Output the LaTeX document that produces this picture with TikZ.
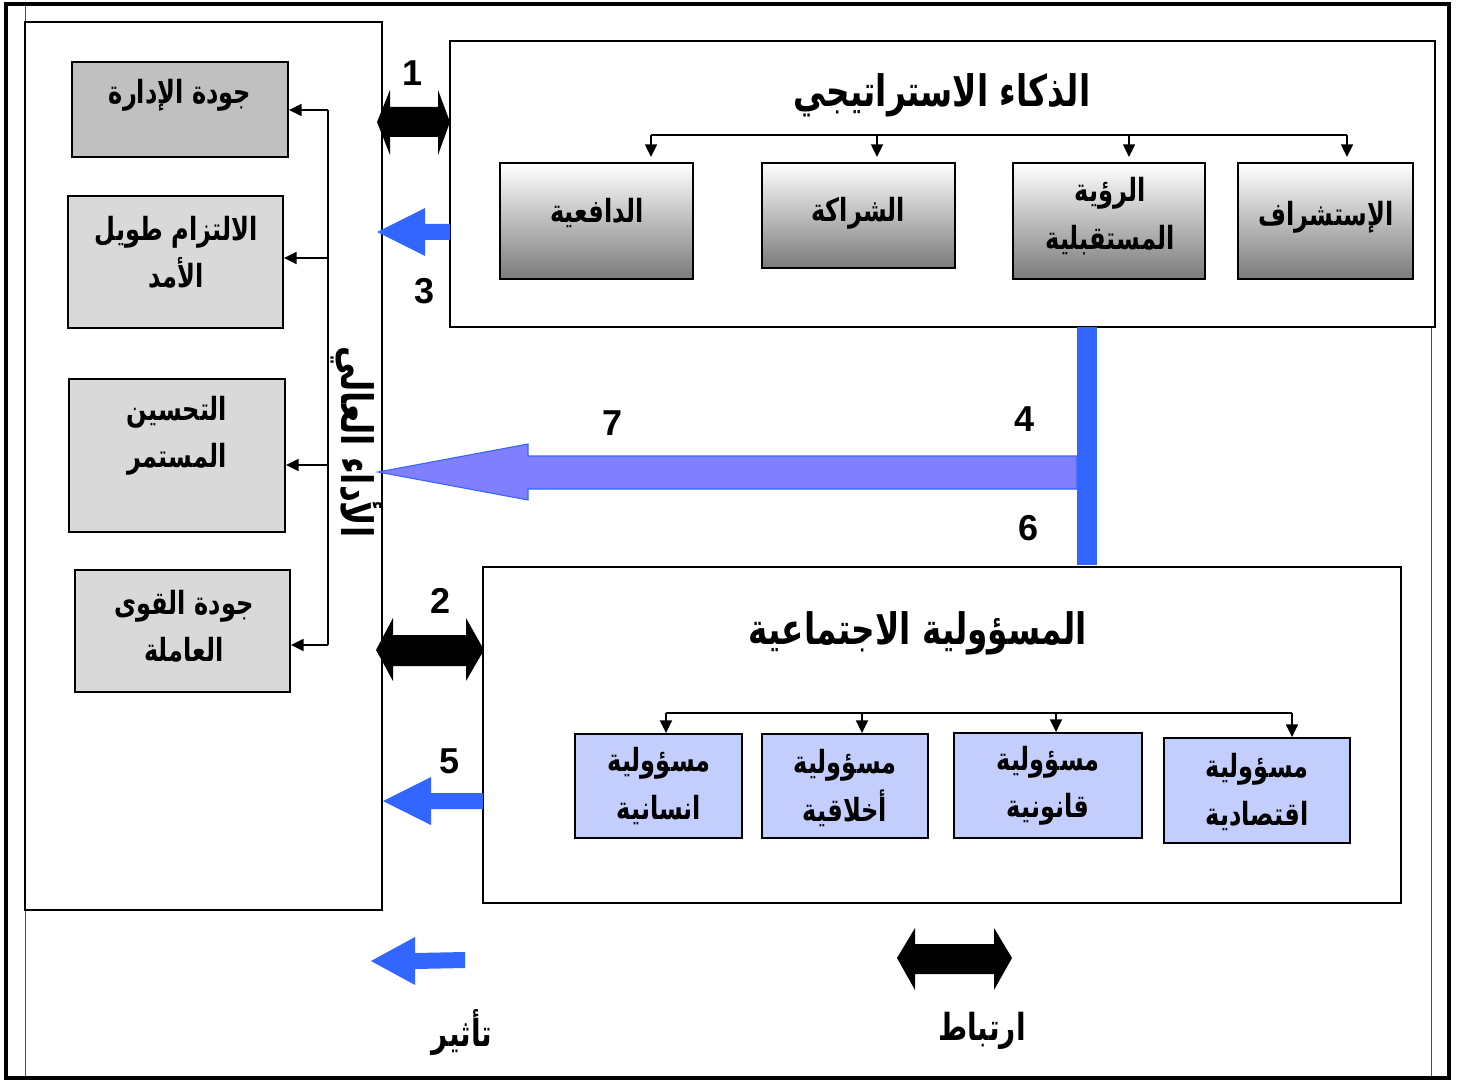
\documentclass[tikz,border=0pt]{standalone}
\usepackage{graphicx}
\usepackage{fontspec}
\setmainfont{Liberation Sans}
\newfontfamily\arfont[Script=Arabic,FakeStretch=0.86]{DejaVu Sans}
\TeXXeTstate=1
\usetikzlibrary{arrows.meta}
% right-to-left line, set a little taller than the font draws it
\newcommand\rl[1]{\scalebox{1}[1.14]{\beginR #1\endR}}
\definecolor{arrblue}{RGB}{51,102,255}
\definecolor{lavender}{RGB}{128,128,255}
\definecolor{paleblue}{RGB}{195,206,252}
\definecolor{gray1}{RGB}{192,192,192}
\definecolor{gray2}{RGB}{217,217,217}
\tikzset{
  wh/.style 2 args={minimum width=#1*0.75pt,minimum height=#2*0.75pt},
  frame/.style={draw=black,line width=2.4pt},
  margin/.style={draw=black!70,line width=0.6pt},
  panel/.style={draw=black,line width=1.1pt,inner sep=0pt},
  gradbox/.style={draw=black,line width=1.4pt,top color=white,bottom color=black!52,inner sep=0pt},
  leftbox/.style={draw=black,line width=1.4pt,inner sep=0pt},
  bluebox/.style={draw=black,line width=1.4pt,fill=paleblue,inner sep=0pt},
  title/.style={font=\arfont\bfseries\fontsize{28.5}{32}\selectfont,inner sep=0pt},
  label/.style={font=\arfont\bfseries\fontsize{21}{35.5}\selectfont,align=center,inner sep=0pt},
  keytext/.style={font=\arfont\bfseries\fontsize{24.5}{30}\selectfont,inner sep=0pt},
  num/.style={font=\bfseries\fontsize{27}{30}\selectfont,inner sep=0pt},
  tree/.style={draw=black,line width=1.1pt},
  treearrow/.style={tree,-{Triangle[length=9.5pt,width=9pt]}},
  blackarrow/.style={fill=black},
  bluearrow/.style={fill=arrblue},
}
\begin{document}
\begin{tikzpicture}[x=0.75pt,y=-0.75pt]
\useasboundingbox (0,0) rectangle (1458,1080);

% page margins and outer frame
\draw[margin] (25,4) -- (25,1078);
\draw[margin] (1431,327) -- (1431,1078);
\draw[frame] (6,4) rectangle (1449,1078);

% left panel: high performance
\node[panel,fill=white,wh={357}{888}] (panel) at (203.5,466) {};
\node[leftbox,fill=gray1,wh={216}{95}] (L1) at (180,109.5) {};
\node[leftbox,fill=gray2,wh={215}{132}] (L2) at (175.5,262) {};
\node[leftbox,fill=gray2,wh={216}{153}] (L3) at (177,455.5) {};
\node[leftbox,fill=gray2,wh={215}{122}] (L4) at (182.5,631) {};
\node[label] (L1t) at (180,95) {\rl{جودة الإدارة}};
\node[label] (L2t) at (176,252) {\rl{الالتزام طويل}\\\rl{الأمد}};
\node[label] (L3t) at (177,436) {\rl{التحسين}\\\rl{المستمر}};
\node[label] (L4t) at (184,626) {\rl{جودة القوى}\\\rl{العاملة}};

% distribution line feeding the four results
\coordinate (busTop) at (328,110);
\coordinate (busBot) at (328,645);
\draw[tree] (busTop) -- (busBot);
\draw[treearrow] (busTop) -- (L1.east |- busTop);
\draw[treearrow] (328,258) coordinate (b2) -- (L2.east |- b2);
\draw[treearrow] (328,465) coordinate (b3) -- (L3.east |- b3);
\draw[treearrow] (busBot) -- (L4.east |- busBot);

\node[title,rotate=-90] (hp) at (357,442) {\rl{الأداء العالي}};

% strategic intelligence
\node[panel,fill=white,wh={985}{286}] (SI) at (942.5,184) {};
\node[title] (SIt) at (942,95) {\rl{الذكاء الاستراتيجي}};
\node[gradbox,wh={193}{116}] (d1) at (596.5,221) {};
\node[gradbox,wh={193}{105}] (d2) at (858.5,215.5) {};
\node[gradbox,wh={192}{116}] (d3) at (1109,221) {};
\node[gradbox,wh={175}{116}] (d4) at (1325.5,221) {};
\node[label] (d1t) at (597,213) {\rl{الدافعية}};
\node[label] (d2t) at (858,213) {\rl{الشراكة}};
\node[label] (d3t) at (1110,216) {\rl{الرؤية}\\\rl{المستقبلية}};
\node[label] (d4t) at (1326,217) {\rl{الإستشراف}};
\coordinate (sa) at (651,135);
\coordinate (sd) at (1347,135);
\draw[tree] (sa) -- (sd);
\draw[treearrow] (sa) -- (651,157);
\draw[treearrow] (877,135) -- (877,157);
\draw[treearrow] (1129,135) -- (1129,157);
\draw[treearrow] (sd) -- (1347,157);

% social responsibility
\node[panel,fill=white,wh={918}{336}] (SR) at (942,735) {};
\node[title] (SRt) at (918,633) {\rl{المسؤولية الاجتماعية}};
\node[bluebox,wh={167}{104}] (s1) at (658.5,786) {};
\node[bluebox,wh={166}{104}] (s2) at (845,786) {};
\node[bluebox,wh={188}{105}] (s3) at (1048,785.5) {};
\node[bluebox,wh={186}{105}] (s4) at (1257,790.5) {};
\node[label] (s1t) at (659,786) {\rl{مسؤولية}\\\rl{انسانية}};
\node[label] (s2t) at (845,788) {\rl{مسؤولية}\\\rl{أخلاقية}};
\node[label] (s3t) at (1048,786) {\rl{مسؤولية}\\\rl{قانونية}};
\node[label] (s4t) at (1257,792) {\rl{مسؤولية}\\\rl{اقتصادية}};
\coordinate (ra) at (666,713);
\coordinate (rd) at (1292,713);
\draw[tree] (ra) -- (rd);
\draw[treearrow] (ra) -- (ra |- s1.north);
\draw[treearrow] (862,713) coordinate (rb) -- (rb |- s2.north);
\draw[treearrow] (1056,713) coordinate (rc) -- (rc |- s3.north);
\draw[treearrow] (rd) -- (rd |- s4.north);

% relations between the three blocks
\fill[blackarrow] (377,122) -- (390,90) -- (390,107) -- (438,107) -- (438,90)
  -- (450,122) -- (438,155) -- (438,137) -- (390,137) -- (390,155) -- cycle;
\fill[bluearrow] (377,232) -- (425,208) -- (425,224) -- (450,224) -- (450,240)
  -- (425,240) -- (425,256) -- cycle;
\fill[blackarrow] (376,650) -- (393,618) -- (393,635) -- (466,635) -- (466,618)
  -- (484,650) -- (466,681) -- (466,666) -- (393,666) -- (393,681) -- cycle;
\fill[bluearrow] (383,801) -- (431,777) -- (431,793) -- (483,793) -- (483,809)
  -- (431,809) -- (431,825) -- cycle;
\fill[arrblue] (1077,327) rectangle (1097,565);
\filldraw[fill=lavender,draw=arrblue,line width=0.8pt] (378,472) -- (528,444)
  -- (528,456) -- (1077,456) -- (1077,489) -- (528,489) -- (528,500) -- cycle;

\node[num] (n1) at (413,73) {1};
\node[num] (n2) at (441,601) {2};
\node[num] (n3) at (425,291) {3};
\node[num] (n4) at (1024,419) {4};
\node[num] (n5) at (450,761) {5};
\node[num] (n6) at (1028,528) {6};
\node[num] (n7) at (613,423) {7};

% key
\fill[bluearrow] (371,961) -- (415,937) -- (415,953) -- (465,952) -- (465,968)
  -- (415,969) -- (415,985) -- cycle;
\fill[blackarrow] (897,958) -- (915,928) -- (915,944) -- (994,944) -- (994,928)
  -- (1012,958) -- (994,990) -- (994,974) -- (915,974) -- (915,990) -- cycle;
\node[keytext] (k1) at (462,1033) {\rl{تأثير}};
\node[keytext] (k2) at (982,1031) {\rl{ارتباط}};
\end{tikzpicture}
\end{document}
